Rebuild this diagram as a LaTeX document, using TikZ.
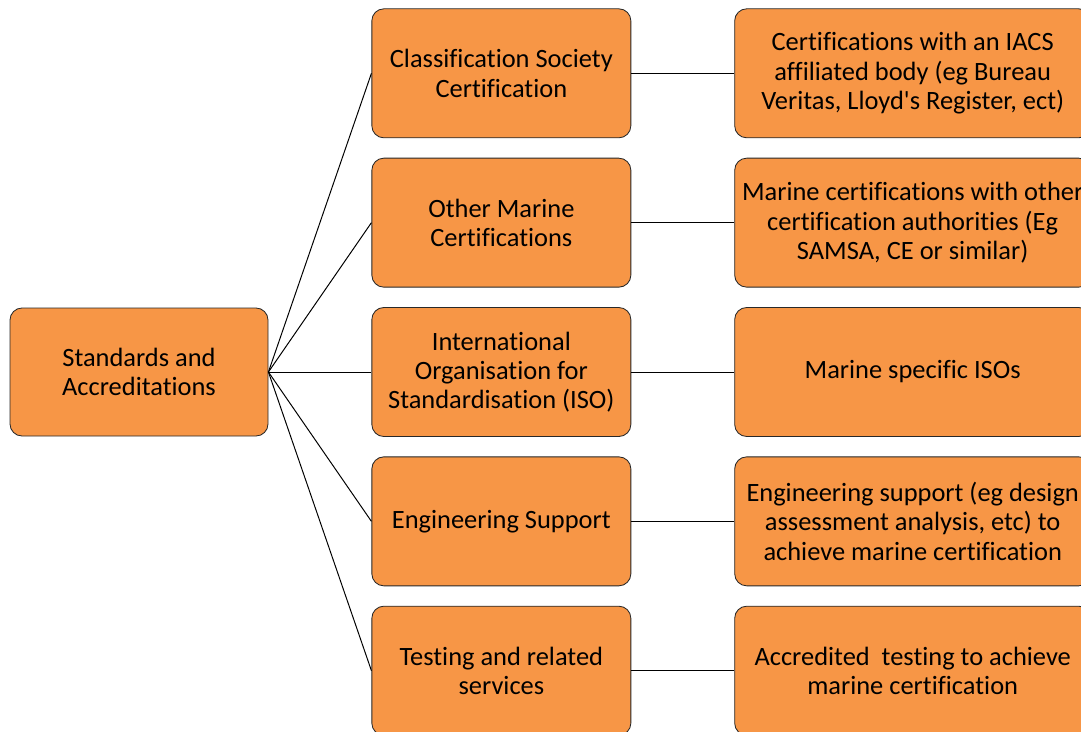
\documentclass[tikz,border=0pt]{standalone}
\usepackage{fontspec}
\setmainfont{Carlito}[Ligatures={NoCommon}]
\usetikzlibrary{positioning}
\definecolor{boxfill}{RGB}{247,150,70}
\definecolor{boxline}{RGB}{40,40,40}

\begin{document}
\begin{tikzpicture}[
    node distance=0.4875cm and 2.575cm,
    box/.style={rectangle, rounded corners=0.3cm, fill=boxfill, draw=boxline, line width=0.6pt, minimum width=6.475cm, minimum height=3.225cm, align=center, font=\fontsize{18.8}{20.8}\selectfont},
    wide/.style={box, minimum width=8.9cm},
    link/.style={draw=black, line width=0.7pt},
]
\useasboundingbox (0,0) rectangle (27.025,-18.275);
\clip (0,0) rectangle (27.025,-18.275);

% Root
\node[box, minimum width=6.45cm, minimum height=3.2cm] (root) at (3.475,-9.3) {Standards and\\Accreditations};

% Categories
\node[box, right=2.575cm of root] (iso) {International\\Organisation for\\Standardisation (ISO)};
\node[box, above=of iso] (marine) {Other Marine\\Certifications};
\node[box, above=of marine] (class) {Classification Society\\Certification};
\node[box, below=of iso] (eng) {Engineering Support};
\node[box, below=of eng] (test) {Testing and related\\services};

% Details
\node[wide, right=of class] (classd) {Certifications with an IACS\\affiliated body (eg Bureau\\Veritas, Lloyd\textquotesingle s Register, ect)};
\node[wide, right=of marine] (marined) {Marine certifications with other\\certification authorities (Eg\\SAMSA, CE or similar)};
\node[wide, right=of iso] (isod) {Marine specific ISOs};
\node[wide, right=of eng] (engd) {Engineering support (eg design\\assessment analysis, etc) to\\achieve marine certification};
\node[wide, right=of test] (testd) {Accredited\ \ testing to achieve\\marine certification};

% Links
\foreach \n in {class,marine,iso,eng,test}{
  \draw[link] (root.east) -- (\n.west);
  \draw[link] (\n.east) -- (\n d.west);
}

\end{tikzpicture}
\end{document}
